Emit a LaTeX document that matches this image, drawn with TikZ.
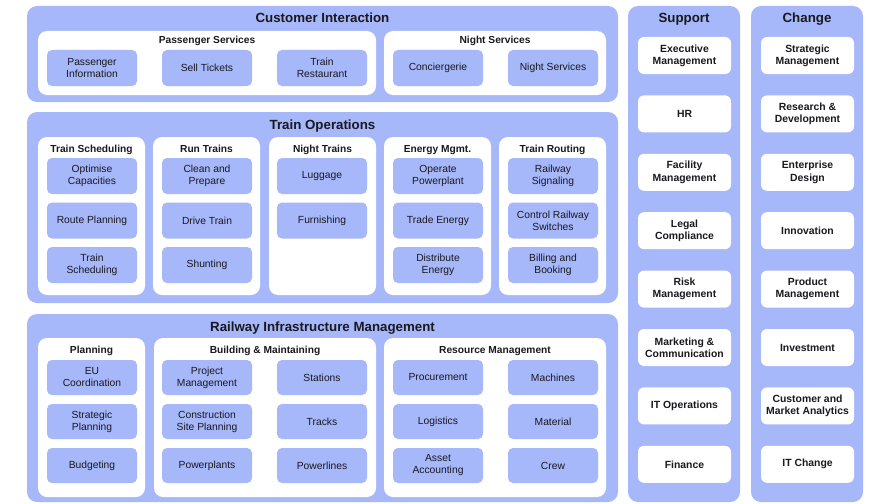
\documentclass[tikz,border=0pt]{standalone}
\usepackage{fontspec}
\setmainfont{Liberation Sans}
\definecolor{blu}{RGB}{166,183,250}
\definecolor{ink}{RGB}{25,25,30}
\tikzset{
  outerbox/.style={fill=blu, draw=none, rounded corners=10pt, inner sep=0pt},
  innerbox/.style={fill=white, draw=none, rounded corners=9pt, inner sep=0pt},
  leaf/.style={fill=blu, draw=none, rounded corners=5pt, inner sep=0pt, align=center,
    text=ink, font=\fontsize{10.3}{12}\selectfont, minimum width=90pt},
  sleaf/.style={fill=white, draw=none, rounded corners=6pt, inner sep=0pt, align=center,
    text=ink, font=\bfseries\fontsize{10.4}{12.2}\selectfont, minimum width=93pt, minimum height=37pt},
  maintitle/.style={text=ink, font=\bfseries\fontsize{13.3}{15}\selectfont, inner sep=0pt, anchor=base, yshift=-4.8pt},
  subtitle/.style={text=ink, font=\bfseries\fontsize{10.2}{12}\selectfont, inner sep=0pt, anchor=base, yshift=-3.7pt},
}
\begin{document}
\begin{tikzpicture}[x=1pt,y=-1pt]
\useasboundingbox (0,0) rectangle (869,503);
% ---------- Customer Interaction
\node[outerbox, minimum width=591pt, minimum height=96pt] (ci) at (322.5,54) {};
\node[maintitle] (citit) at (322.5,18) {Customer Interaction};
\node[innerbox, minimum width=338pt, minimum height=64pt] (ps) at (207,63) {};
\node[subtitle] (pstit) at (207,40) {Passenger Services};
\node[leaf, minimum height=36pt] (pi) at (92,68) {Passenger\\Information};
\node[leaf, minimum height=36pt] (st) at (207,68) {Sell Tickets};
\node[leaf, minimum height=36pt] (tr) at (322,68) {Train\\Restaurant};
\node[innerbox, minimum width=222pt, minimum height=64pt] (ns) at (495,63) {};
\node[subtitle] (nstit) at (495,40) {Night Services};
\node[leaf, minimum height=36pt] (cc) at (438,68) {Conciergerie};
\node[leaf, minimum height=36pt] (nsv) at (553,68) {Night Services};
% ---------- Train Operations
\node[outerbox, minimum width=591pt, minimum height=191pt] (to) at (322.5,207.5) {};
\node[maintitle] (totit) at (322.5,125) {Train Operations};
\foreach \nm/\cx/\tt in {tsch/91.5/Train Scheduling, rt/206.5/Run Trains, nt/322.5/Night Trains, em/437.5/Energy Mgmt., trt/552.5/Train Routing}{
  \node[innerbox, minimum width=107pt, minimum height=158pt] (\nm) at (\cx,216) {};
  \node[subtitle] (\nm-t) at (\cx,149) {\tt};
}
\node[leaf, minimum height=36pt] (oc) at (92,176) {Optimise\\Capacities};
\node[leaf, minimum height=36pt] (rp) at (92,220.5) {Route Planning};
\node[leaf, minimum height=36pt] (tsc) at (92,265) {Train\\Scheduling};
\node[leaf, minimum height=36pt] (cp) at (207,176) {Clean and\\Prepare};
\node[leaf, minimum height=36pt] (dt) at (207,220.5) {Drive Train};
\node[leaf, minimum height=36pt] (sh) at (207,265) {Shunting};
\node[leaf, minimum height=36pt] (lu) at (322,176) {Luggage};
\node[leaf, minimum height=36pt] (fu) at (322,220.5) {Furnishing};
\node[leaf, minimum height=36pt] (op) at (438,176) {Operate\\Powerplant};
\node[leaf, minimum height=36pt] (te) at (438,220.5) {Trade Energy};
\node[leaf, minimum height=36pt] (de) at (438,265) {Distribute\\Energy};
\node[leaf, minimum height=36pt] (rs) at (553,176) {Railway\\Signaling};
\node[leaf, minimum height=36pt] (crs) at (553,220.5) {Control Railway\\Switches};
\node[leaf, minimum height=36pt] (bb) at (553,265) {Billing and\\Booking};
% ---------- Railway Infrastructure Management
\node[outerbox, minimum width=591pt, minimum height=188pt] (rim) at (322.5,408) {};
\node[maintitle] (rimtit) at (322.5,327) {Railway Infrastructure Management};
\node[innerbox, minimum width=107pt, minimum height=159pt] (pl) at (91.5,417.5) {};
\node[subtitle] (pltit) at (91.5,350) {Planning};
\node[innerbox, minimum width=222pt, minimum height=159pt] (bm) at (265,417.5) {};
\node[subtitle] (bmtit) at (265,350) {Building \& Maintaining};
\node[innerbox, minimum width=222pt, minimum height=159pt] (rm) at (495,417.5) {};
\node[subtitle] (rmtit) at (495,350) {Resource Management};
\node[leaf, minimum height=35pt] (eu) at (92,377.5) {EU\\Coordination};
\node[leaf, minimum height=35pt] (sp) at (92,421.5) {Strategic\\Planning};
\node[leaf, minimum height=35pt] (bu) at (92,465.5) {Budgeting};
\node[leaf, minimum height=35pt] (pm) at (207,377.5) {Project\\Management};
\node[leaf, minimum height=35pt] (csp) at (207,421.5) {Construction\\Site Planning};
\node[leaf, minimum height=35pt] (pp) at (207,465.5) {Powerplants};
\node[leaf, minimum height=35pt] (sta) at (322,377.5) {Stations};
\node[leaf, minimum height=35pt] (trk) at (322,421.5) {Tracks};
\node[leaf, minimum height=35pt] (pwl) at (322,465.5) {Powerlines};
\node[leaf, minimum height=35pt] (pro) at (438,377.5) {Procurement};
\node[leaf, minimum height=35pt] (log) at (438,421.5) {Logistics};
\node[leaf, minimum height=35pt] (aa) at (438,465.5) {Asset\\Accounting};
\node[leaf, minimum height=35pt] (mac) at (553,377.5) {Machines};
\node[leaf, minimum height=35pt] (mat) at (553,421.5) {Material};
\node[leaf, minimum height=35pt] (crw) at (553,465.5) {Crew};
% ---------- Support
\node[outerbox, minimum width=112pt, minimum height=496pt] (sup) at (684,254) {};
\node[maintitle] (suptit) at (684,18) {Support};
\foreach \nm/\i/\tt in {s1/0/{Executive\\Management}, s2/1/HR, s3/2/{Facility\\Management}, s4/3/{Legal\\Compliance}, s5/4/{Risk\\Management}, s6/5/{Marketing \&\\Communication}, s7/6/IT Operations, s8/7/Finance}{
  \node[sleaf] (\nm) at (684.5,55.5+58.4*\i) {\tt};
}
% ---------- Change
\node[outerbox, minimum width=112pt, minimum height=496pt] (chg) at (807,254) {};
\node[maintitle] (chgtit) at (807,18) {Change};
\foreach \nm/\i/\tt in {c1/0/{Strategic\\Management}, c2/1/{Research \&\\Development}, c3/2/{Enterprise\\Design}, c4/3/Innovation, c5/4/{Product\\Management}, c6/5/Investment, c7/6/{Customer and\\Market Analytics}, c8/7/IT Change}{
  \node[sleaf] (\nm) at (807.5,55.5+58.4*\i) {\tt};
}
\end{tikzpicture}
\end{document}
